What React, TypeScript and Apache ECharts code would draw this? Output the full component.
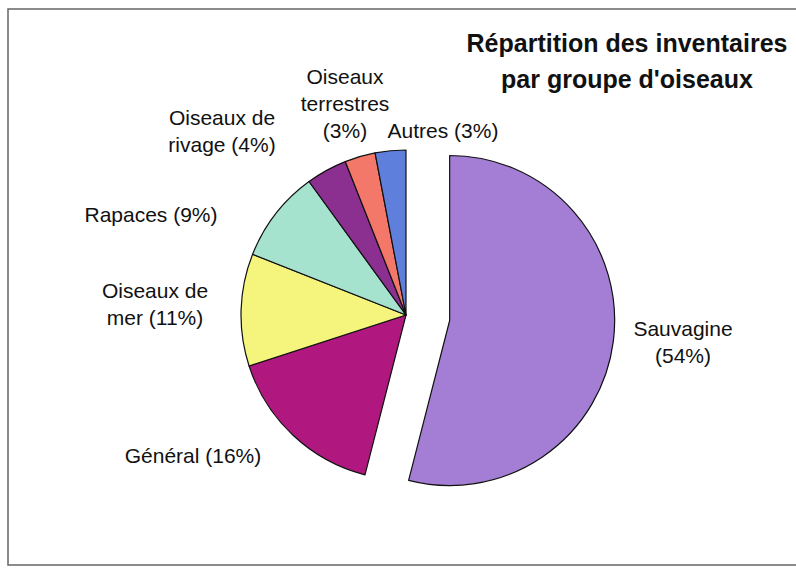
import React, { useEffect, useRef } from "react";
import * as echarts from "echarts";

const categories = [
  "Sauvagine",
  "Général",
  "Oiseaux de mer",
  "Rapaces",
  "Oiseaux de rivage",
  "Oiseaux terrestres",
  "Autres",
];
const values = [54, 16, 11, 9, 4, 3, 3];
const labelTexts = [
  "Sauvagine\n(54%)",
  "Général (16%)",
  "Oiseaux de\nmer (11%)",
  "Rapaces (9%)",
  "Oiseaux de\nrivage (4%)",
  "Oiseaux\nterrestres\n(3%)",
  "Autres (3%)",
];
const colors = ["#a47ed4", "#b0187f", "#f5f57d", "#a6e3cf", "#8b2f91", "#f3786a", "#5f7fdc"];
const titleText = "Répartition des inventaires\npar groupe d'oiseaux";

// label anchor positions (centre of each label block), layout only
const labelPos: [number, number][] = [
  [683, 342],
  [193, 455],
  [155, 304],
  [151, 214],
  [222, 131],
  [345, 103],
  [443, 130],
];

const labelFont = {
  fontFamily: "Liberation Sans",
  fontSize: 21,
  lineHeight: 27,
};

export default function App() {
  const ref = useRef<HTMLDivElement>(null);
  useEffect(() => {
    if (!ref.current) return;
    const chart = echarts.init(ref.current, undefined, { renderer: "svg" });
    chart.setOption({
      animation: false,
      backgroundColor: "#ffffff",
      title: {
        text: titleText,
        left: 622,
        top: 20,
        textAlign: "center",
        textStyle: {
          fontFamily: "Liberation Sans",
          fontSize: 25,
          fontWeight: "bold",
          color: "#111",
          lineHeight: 36,
        },
      },
      graphic: [
        {
          type: "rect",
          shape: { x: 8, y: 9, width: 800, height: 556 },
          style: { fill: "none", stroke: "#666", lineWidth: 1.5 },
          silent: true,
        },
        {
          type: "text",
          x: labelPos[0][0],
          y: labelPos[0][1],
          silent: true,
          style: {
            text: labelTexts[0],
            ...labelFont,
            fill: "#111",
            align: "center",
            verticalAlign: "middle",
          },
        },
      ],
      series: [
        {
          type: "pie",
          center: [406, 315],
          radius: 165,
          startAngle: 90,
          clockwise: true,
          selectedMode: "single",
          selectedOffset: 44,
          avoidLabelOverlap: false,
          minShowLabelAngle: 0,
          itemStyle: { borderColor: "#111", borderWidth: 1.2 },
          label: {
            show: true,
            position: "outside",
            ...labelFont,
            color: "#111",
            align: "center",
            formatter: (p: any) => labelTexts[p.dataIndex],
          },
          labelLine: { show: false },
          labelLayout: (p: any) => ({
            x: labelPos[p.dataIndex][0],
            y: labelPos[p.dataIndex][1],
            align: "center",
            verticalAlign: "middle",
            hideOverlap: false,
          }),
          emphasis: { disabled: true },
          data: categories.map((c, i) => ({
            name: c,
            value: values[i],
            selected: i === 0,
            itemStyle: { color: colors[i] },
            label: i === 0 ? { show: false } : undefined,
          })),
        },
      ],
    });
    return () => chart.dispose();
  }, []);
  return (
    <div
      ref={ref}
      style={{ position: "fixed", left: 0, top: 0, width: 796, height: 569 }}
    />
  );
}
